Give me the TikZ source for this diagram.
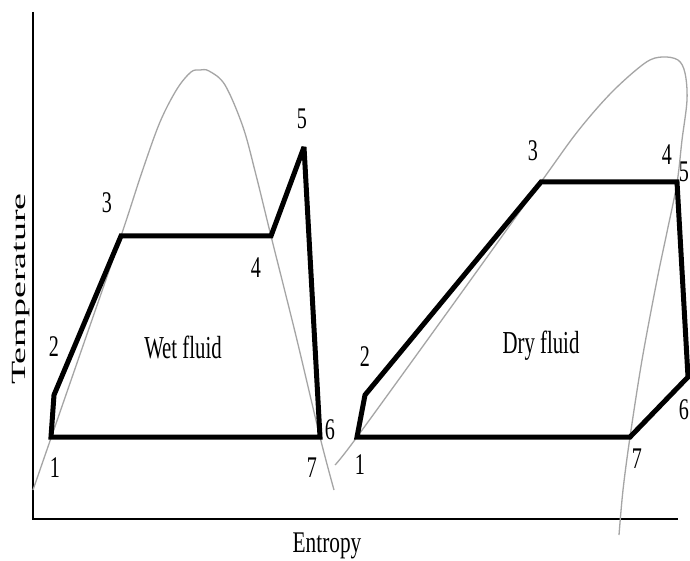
\documentclass[tikz,border=0pt]{standalone}
\usepackage{fontspec}
\setmainfont{Liberation Serif}
\definecolor{domegray}{RGB}{165,165,165}
\begin{document}
\begin{tikzpicture}[x=1pt,y=-1pt,
  cycleline/.style={line width=5pt,line join=miter,miter limit=2},
  domeline/.style={draw=domegray,line width=1.3pt},
  axisline/.style={line width=1.6pt},
  ptlabel/.style={inner sep=0pt,font=\fontsize{30}{36}\selectfont},
  biglabel/.style={inner sep=0pt,anchor=base,font=\fontsize{32}{38}\selectfont}]
\clip (0,0) rectangle (690,561);
\fill[white] (0,0) rectangle (690,561);
% axes
\coordinate (ytop) at (33,12);
\coordinate (origin) at (33,519);
\coordinate (xend) at (678,519);
\draw[axisline] (ytop) -- (origin) -- (xend);
% domes
\draw[domeline] plot[smooth,tension=0.55] coordinates {(33,490) (77,363) (121,236) (142,172) (160,122) (177,89) (191,72) (200,70) (209,71) (225,85) (243,127) (256,175) (271,236) (296,336) (320,437) (334,490)};
\draw[domeline] plot[smooth,tension=0.55] coordinates {(335,465) (357,437) (449,310) (541,182) (578,131) (612,92) (645,63) (662,57) (678,60) (685,73) (687,100) (682,140) (677,183) (667,232) (657,280) (642,360) (630,437) (623,490) (619,535)};
% wet cycle
\coordinate (w1) at (51,437);
\coordinate (w2) at (54,395);
\coordinate (w3) at (121,236);
\coordinate (w4) at (271,236);
\coordinate (w5) at (304,147);
\coordinate (w6) at (320,437);
\draw[cycleline] (w1) -- (w2) -- (w3) -- (w4) -- (w5) -- (w6) -- cycle;
% dry cycle
\coordinate (d1) at (357,437);
\coordinate (d2) at (365,395);
\coordinate (d3) at (541,182);
\coordinate (d4) at (677,182);
\coordinate (d6) at (688,377);
\coordinate (d7) at (630,437);
\draw[cycleline] (d1) -- (d2) -- (d3) -- (d4) -- (d6) -- (d7) -- cycle;
% point labels
\node[ptlabel] (lw1) at (55,468) {\scalebox{0.67}[1]{1}};
\node[ptlabel] (lw2) at (54,347) {\scalebox{0.67}[1]{2}};
\node[ptlabel] (lw3) at (107,203) {\scalebox{0.67}[1]{3}};
\node[ptlabel] (lw4) at (256,268) {\scalebox{0.67}[1]{4}};
\node[ptlabel] (lw5) at (302,119) {\scalebox{0.67}[1]{5}};
\node[ptlabel] (lw6) at (330,430) {\scalebox{0.67}[1]{6}};
\node[ptlabel] (lw7) at (312,468) {\scalebox{0.67}[1]{7}};
\node[ptlabel] (ld1) at (360,465) {\scalebox{0.67}[1]{1}};
\node[ptlabel] (ld2) at (365,357) {\scalebox{0.67}[1]{2}};
\node[ptlabel] (ld3) at (533,151) {\scalebox{0.67}[1]{3}};
\node[ptlabel] (ld4) at (667,155) {\scalebox{0.67}[1]{4}};
\node[ptlabel] (ld5) at (684,172) {\scalebox{0.67}[1]{5}};
\node[ptlabel] (ld6) at (684,410) {\scalebox{0.67}[1]{6}};
\node[ptlabel] (ld7) at (637,459) {\scalebox{0.67}[1]{7}};
% region labels
\node[biglabel] (wet) at (183,358) {\scalebox{0.65}[1]{Wet fluid}};
\node[biglabel] (dry) at (541,353) {\scalebox{0.65}[1]{Dry fluid}};
% axis labels
\node[inner sep=0pt,anchor=base,font=\fontsize{30}{36}\selectfont] (xlab) at (327,552) {\scalebox{0.71}[1]{Entropy}};
\node[inner sep=0pt,anchor=base,rotate=90,font=\fontsize{38}{44}\selectfont] (ylab) at (25,289) {\scalebox{1}[0.53]{Temperature}};
\end{tikzpicture}
\end{document}
